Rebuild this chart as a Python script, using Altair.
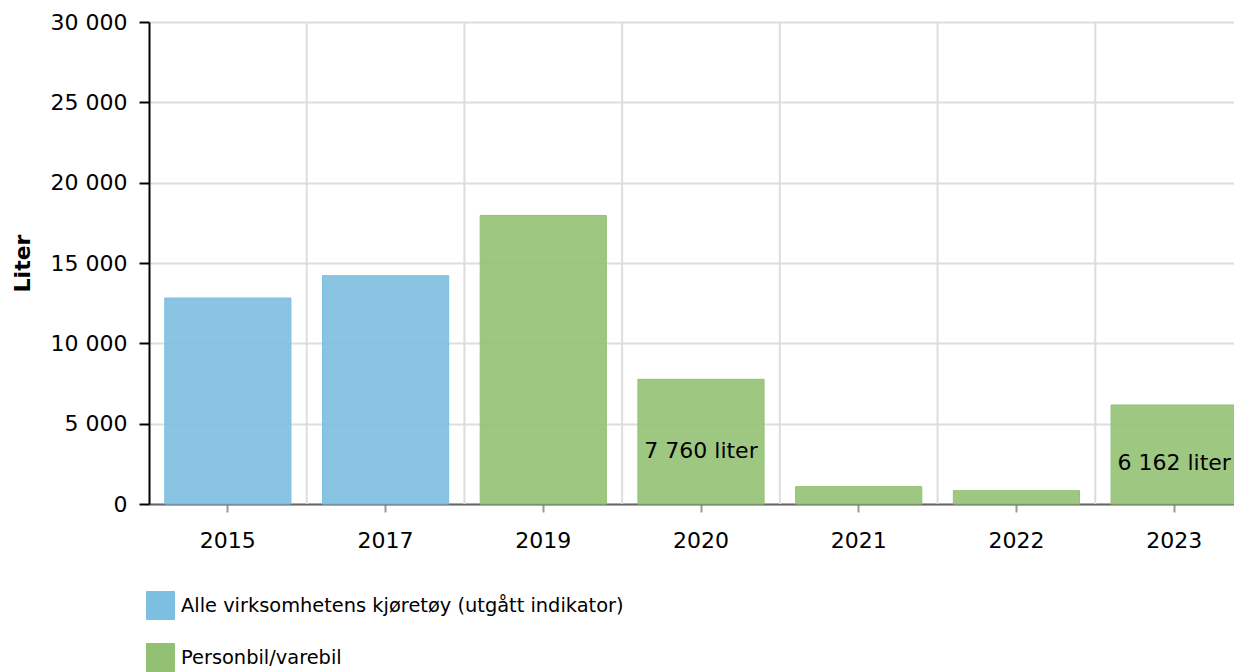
import altair as alt
import pandas as pd

years = ["2015", "2017", "2019", "2020", "2021", "2022", "2023"]
values = [12820, 14210, 17960, 7760, 1080, 830, 6162]
series = [
    "Alle virksomhetens kjøretøy (utgått indikator)",
    "Alle virksomhetens kjøretøy (utgått indikator)",
    "Personbil/varebil",
    "Personbil/varebil",
    "Personbil/varebil",
    "Personbil/varebil",
    "Personbil/varebil",
]
labels = ["", "", "", "7 760 liter", "", "", "6 162 liter"]
series_domain = ["Alle virksomhetens kjøretøy (utgått indikator)", "Personbil/varebil"]
series_colors = ["#7CBFE0", "#93C173"]
y_ticks = [0, 5000, 10000, 15000, 20000, 25000, 30000]

df = pd.DataFrame({"year": years, "value": values, "series": series, "label": labels})

W = 1085
H = 482
FONT = "DejaVu Sans"

xscale = alt.Scale(domain=years, range=[0, 1104], paddingInner=0, paddingOuter=0)
yscale = alt.Scale(domain=[0, 30000], nice=False)

xaxis = alt.Axis(
    title=None,
    grid=False,
    labelFontSize=22,
    labelColor="#000000",
    labelFont=FONT,
    labelPadding=18,
    labelAngle=0,
    tickSize=8,
    tickColor="#999999",
    tickWidth=2,
    domainColor="#666666",
    domainWidth=2,
)

base = alt.Chart(df)

vgrid = base.transform_filter(f"datum.year != '{years[0]}'").mark_rule(
    color="#dddddd", strokeWidth=2
).encode(
    x=alt.X("year:N", scale=xscale, bandPosition=0, axis=xaxis),
    y=alt.value(0),
    y2=alt.value(H),
)

colscale = alt.Scale(domain=series_domain, range=series_colors)
leg = alt.Legend(title=None)

bars = base.mark_bar(width=alt.RelativeBandSize(0.8), fillOpacity=0.9, strokeWidth=1).encode(
    x=alt.X("year:N", scale=xscale, axis=xaxis),
    y=alt.Y(
        "value:Q",
        scale=yscale,
        axis=alt.Axis(
            title="Liter",
            values=y_ticks,
            labelExpr="replace(format(datum.value, ','), ',', ' ')",
            labelFontSize=22,
            labelFont=FONT,
            labelColor="#000000",
            labelPadding=12,
            tickSize=10,
            tickColor="#000000",
            tickWidth=2,
            domainColor="#000000",
            domainWidth=2,
            grid=True,
            gridColor="#dddddd",
            gridWidth=2,
            titleFont=FONT,
            titleFontSize=22,
            titleFontWeight="bold",
            titleColor="#000000",
            titleAngle=270,
            titleBaseline="middle",
            titleAlign="center",
            titleX=-127,
            titleY=H / 2,
        ),
    ),
    color=alt.Color("series:N", scale=colscale, legend=leg),
    stroke=alt.Stroke("series:N", scale=colscale, legend=leg),
)

text = base.transform_filter("datum.label != ''").transform_calculate(
    half="datum.value / 2"
).mark_text(fontSize=22, font=FONT, color="#000000", baseline="middle", dy=9).encode(
    x=alt.X("year:N", scale=xscale, axis=xaxis),
    y=alt.Y("half:Q", scale=yscale),
    text="label:N",
)

chart = (
    alt.layer(vgrid, bars, text)
    .properties(
        width=W,
        height=H,
        autosize=alt.AutoSizeParams(type="none"),
        padding={"left": 141, "top": 14, "right": 0, "bottom": 168},
    )
    .configure_view(stroke=None)
    .configure_legend(
        orient="none",
        legendX=-3,
        legendY=569,
        direction="vertical",
        symbolType="square",
        symbolSize=784,
        symbolStrokeWidth=1,
        labelFontSize=19.4,
        labelFont=FONT,
        labelColor="#000000",
        labelOffset=6,
        labelLimit=0,
        rowPadding=19,
        padding=0,
    )
)

chart.save("out.html", embed_options={"renderer": "svg", "actions": False})
